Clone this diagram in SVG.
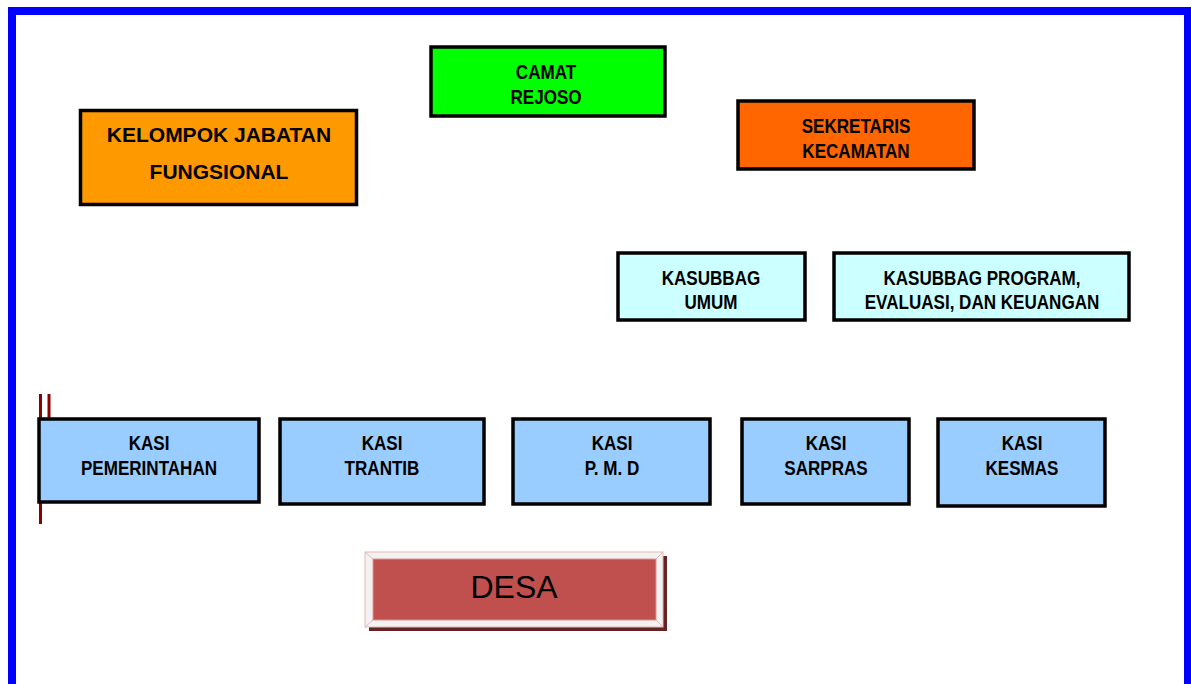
<svg xmlns="http://www.w3.org/2000/svg" width="1191" height="684" viewBox="0 0 1191 684">
<style>
.box{stroke:#000;stroke-width:3.5}
.t{font-family:"Liberation Sans",Arial,sans-serif;font-weight:bold;font-size:19.5px;fill:#000;text-anchor:middle}
.kasi{fill:#99CCFF}
.sub{fill:#CCFFFF}
</style>
<rect x="0" y="0" width="1191" height="684" fill="#fff"/>
<rect x="12" y="11" width="1176" height="690" fill="none" stroke="#0000FF" stroke-width="8"/>
<g id="connectors" stroke="#8B0000" stroke-width="3">
<line x1="40.5" y1="394" x2="40.5" y2="524"/>
<line x1="49" y1="394" x2="49" y2="418"/>
</g>
<g id="camat">
<rect class="box" x="431" y="47" width="234" height="69" fill="#00FF00"/>
<text class="t" transform="translate(546 79) scale(0.875 1)">CAMAT</text>
<text class="t" transform="translate(546 104) scale(0.875 1)">REJOSO</text>
</g>
<g id="kelompok">
<rect class="box" x="80.5" y="110.5" width="276" height="94" fill="#FF9900"/>
<text class="t" x="219" y="142" style="font-size:21px">KELOMPOK JABATAN</text>
<text class="t" x="219" y="179" style="font-size:21px">FUNGSIONAL</text>
</g>
<g id="sekretaris">
<rect class="box" x="738" y="101" width="236" height="68" fill="#FF6600"/>
<text class="t" transform="translate(856 133) scale(0.875 1)">SEKRETARIS</text>
<text class="t" transform="translate(856 158) scale(0.875 1)">KECAMATAN</text>
</g>
<g id="kasubbag-umum">
<rect class="box sub" x="618" y="253" width="187" height="67"/>
<text class="t" transform="translate(711 285) scale(0.875 1)">KASUBBAG</text>
<text class="t" transform="translate(711 309) scale(0.875 1)">UMUM</text>
</g>
<g id="kasubbag-program">
<rect class="box sub" x="834" y="253" width="295" height="67"/>
<text class="t" transform="translate(982 285) scale(0.875 1)">KASUBBAG PROGRAM,</text>
<text class="t" transform="translate(982 309) scale(0.875 1)">EVALUASI, DAN KEUANGAN</text>
</g>
<g id="kasi-pemerintahan">
<rect class="box kasi" x="39" y="419" width="220" height="83"/>
<text class="t" transform="translate(149 450) scale(0.875 1)">KASI</text>
<text class="t" transform="translate(149 475) scale(0.875 1)">PEMERINTAHAN</text>
</g>
<g id="kasi-trantib">
<rect class="box kasi" x="280" y="419" width="204" height="85"/>
<text class="t" transform="translate(382 450) scale(0.875 1)">KASI</text>
<text class="t" transform="translate(382 475) scale(0.875 1)">TRANTIB</text>
</g>
<g id="kasi-pmd">
<rect class="box kasi" x="513" y="419" width="197" height="85"/>
<text class="t" transform="translate(612 450) scale(0.875 1)">KASI</text>
<text class="t" transform="translate(612 475) scale(0.875 1)">P. M. D</text>
</g>
<g id="kasi-sarpras">
<rect class="box kasi" x="742" y="419" width="167" height="85"/>
<text class="t" transform="translate(826 450) scale(0.875 1)">KASI</text>
<text class="t" transform="translate(826 475) scale(0.875 1)">SARPRAS</text>
</g>
<g id="kasi-kesmas">
<rect class="box kasi" x="938" y="419" width="167" height="87"/>
<text class="t" transform="translate(1022 450) scale(0.875 1)">KASI</text>
<text class="t" transform="translate(1022 475) scale(0.875 1)">KESMAS</text>
</g>
<g id="desa">
<rect x="369" y="556" width="298" height="75" fill="#632423"/>
<rect x="365" y="552" width="298" height="75" fill="#F2F2F2" stroke="#E6B9B8" stroke-width="1"/>
<path d="M365 552L373 559M663 552L656 559M365 627L373 620M663 627L656 620" stroke="#E6B9B8" stroke-width="1"/>
<rect x="373" y="559" width="283" height="61" fill="#C0504D" stroke="#D99694" stroke-width="1"/>
<text x="514" y="598" style="font-family:'Liberation Sans',Arial,sans-serif;font-size:32px;fill:#000;text-anchor:middle">DESA</text>
</g>
</svg>
